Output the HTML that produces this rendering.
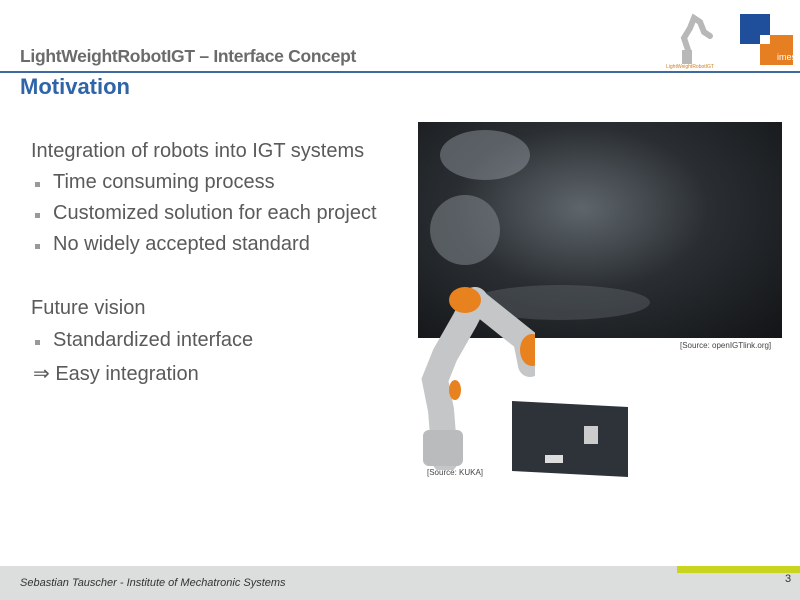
<!DOCTYPE html>
<html><head><style>
body{margin:0;width:800px;height:600px;position:relative;background:#fff;overflow:hidden;font-family:"Liberation Sans",sans-serif}
.t{position:absolute;white-space:nowrap}
.b{position:absolute;width:5px;height:5px;background:#999}
.m{font-size:20px;color:#5a5a5a}
</style></head><body>
<div class="t" style="left:20px;top:46px;font-size:17.5px;font-weight:bold;color:#6b6b6b;letter-spacing:-0.3px">LightWeightRobotIGT – Interface Concept</div>
<div style="position:absolute;left:0;top:71px;width:800px;height:2px;background:#3f6aa0"></div>
<div class="t" style="left:20px;top:74px;font-size:22px;font-weight:bold;color:#2f64a8">Motivation</div>
<svg style="position:absolute;left:660px;top:10px" width="70" height="62">
<path d="M28 40 L24 28 L30 18 L34 8 L40 12 L44 22 L50 26" stroke="#b8b8b8" stroke-width="6" fill="none" stroke-linecap="round"/>
<rect x="22" y="40" width="10" height="14" fill="#b8b8b8"/>
<text x="6" y="58" font-size="5" fill="#d08020" font-family="Liberation Sans">LightWeightRobotIGT</text>
</svg>
<div style="position:absolute;left:740px;top:14px;width:30px;height:30px;background:#1f4f9a"></div>
<div style="position:absolute;left:760px;top:35px;width:33px;height:30px;background:#e67e22"></div>
<div style="position:absolute;left:760px;top:35px;width:10px;height:9px;background:#fff"></div>
<div class="t" style="left:777px;top:52px;font-size:9px;color:#fff">imes</div>
<div class="t m" style="left:31px;top:140px">Integration of robots into IGT systems</div>
<div class="b" style="left:35px;top:182px"></div><div class="t m" style="left:53px;top:171px">Time consuming process</div>
<div class="b" style="left:35px;top:213px"></div><div class="t m" style="left:53px;top:202px">Customized solution for each project</div>
<div class="b" style="left:35px;top:244px"></div><div class="t m" style="left:53px;top:233px">No widely accepted standard</div>
<div class="t m" style="left:31px;top:297px">Future vision</div>
<div class="b" style="left:35px;top:340px"></div><div class="t m" style="left:53px;top:329px">Standardized interface</div>
<div class="t m" style="left:33px;top:361px">⇒ Easy integration</div>
<div style="position:absolute;left:418px;top:122px;width:364px;height:216px;background:radial-gradient(ellipse at 45% 40%,#5e666c 0%,#2a2e32 45%,#121416 100%)"></div>
<div style="position:absolute;left:440px;top:130px;width:90px;height:50px;border-radius:50%;background:#9aa0a8;opacity:.45"></div>
<div style="position:absolute;left:430px;top:195px;width:70px;height:70px;border-radius:50%;background:#80868c;opacity:.55"></div>
<div style="position:absolute;left:470px;top:285px;width:180px;height:35px;border-radius:50%;background:#7a8088;opacity:.3"></div>
<div class="t" style="left:680px;top:341px;font-size:8px;color:#444">[Source: openIGTlink.org]</div>
<svg style="position:absolute;left:415px;top:280px" width="120" height="190">
<path d="M30 180 L26 130 L20 100 L30 75 L50 40 L60 20" stroke="#c4c6c8" stroke-width="26" fill="none" stroke-linecap="round"/>
<path d="M60 20 L85 40 L110 60 L115 85" stroke="#c4c6c8" stroke-width="24" fill="none" stroke-linecap="round"/>
<ellipse cx="50" cy="20" rx="16" ry="13" fill="#e8821e"/>
<ellipse cx="117" cy="70" rx="12" ry="16" fill="#e8821e"/>
<ellipse cx="40" cy="110" rx="6" ry="10" fill="#e8821e"/>
<rect x="8" y="150" width="40" height="36" rx="6" fill="#b9bbbd"/>
</svg>
<div class="t" style="left:427px;top:468px;font-size:8px;color:#444">[Source: KUKA]</div>
<div style="position:absolute;left:512px;top:404px;width:116px;height:70px;background:#2d3338;transform:skewY(3deg)"></div>
<div style="position:absolute;left:584px;top:426px;width:14px;height:18px;background:#ccc"></div>
<div style="position:absolute;left:545px;top:455px;width:18px;height:8px;background:#ddd"></div>
<div style="position:absolute;left:0;top:566px;width:800px;height:34px;background:#dcdedd"></div>
<div style="position:absolute;left:677px;top:566px;width:123px;height:7px;background:#c8d41e"></div>
<div class="t" style="left:20px;top:577px;font-size:11px;font-style:italic;color:#333">Sebastian Tauscher - Institute of Mechatronic Systems</div>
<div class="t" style="left:785px;top:573px;font-size:11px;color:#333">3</div>
</body></html>
